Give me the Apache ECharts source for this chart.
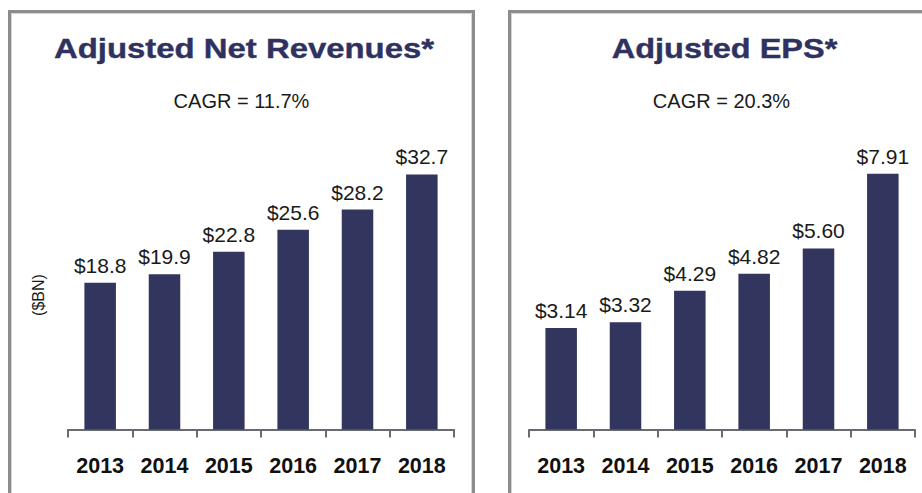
<!DOCTYPE html>
<html>
<head>
<meta charset="utf-8">
<script src="https://cdn.jsdelivr.net/npm/echarts@6/dist/echarts.min.js"></script>
<style>
html,body{margin:0;padding:0;background:#fff;}
#chart{width:922px;height:493px;}
</style>
</head>
<body>
<div id="chart"></div>
<script>
var categories = ['2013', '2014', '2015', '2016', '2017', '2018'];
var revenueValues = [18.8, 19.9, 22.8, 25.6, 28.2, 32.7];
var epsValues = [3.14, 3.32, 4.29, 4.82, 5.60, 7.91];
var revenueTitle = 'Adjusted Net Revenues*';
var epsTitle = 'Adjusted EPS*';
var revenueCagr = 'CAGR = 11.7%';
var epsCagr = 'CAGR = 20.3%';
var revenueUnit = '($BN)';

var navy = '#32355e';
var chart = echarts.init(document.getElementById('chart'), null, {renderer: 'svg'});

function xAxisCfg(gridIndex) {
  return {
    type: 'category', gridIndex: gridIndex, data: categories, boundaryGap: true,
    axisLine: {show: true, lineStyle: {color: '#6a6a72', width: 2}},
    axisTick: {show: true, length: 8, lineStyle: {color: '#6a6a72', width: 2}},
    axisLabel: {margin: 25, color: '#111', fontFamily: 'Liberation Sans', fontWeight: 'bold', fontSize: 21.5}
  };
}

chart.setOption({
  animation: false,
  backgroundColor: '#fff',
  grid: [
    {left: 68, right: 468, top: 117.5, bottom: 63.5},
    {left: 529, right: 7, top: 117.5, bottom: 63.5}
  ],
  xAxis: [xAxisCfg(0), xAxisCfg(1)],
  yAxis: [
    {type: 'value', gridIndex: 0, min: 0, max: 40, show: false},
    {type: 'value', gridIndex: 1, min: 0, max: 9.65, show: false}
  ],
  series: [
    {
      type: 'bar', xAxisIndex: 0, yAxisIndex: 0, data: revenueValues, barWidth: '49%',
      itemStyle: {color: navy},
      label: {show: true, position: 'top', distance: 7, color: '#1a1a1a', fontFamily: 'Liberation Sans', fontSize: 21,
        formatter: function (p) { return '$' + p.value.toFixed(1); }}
    },
    {
      type: 'bar', xAxisIndex: 1, yAxisIndex: 1, data: epsValues, barWidth: '49%',
      itemStyle: {color: navy},
      label: {show: true, position: 'top', distance: 7, color: '#1a1a1a', fontFamily: 'Liberation Sans', fontSize: 21,
        formatter: function (p) { return '$' + p.value.toFixed(2); }}
    }
  ],
  graphic: [
    {type: 'rect', shape: {x: 9.5, y: 11.5, width: 464, height: 600}, style: {fill: 'none', stroke: '#8c8c8c', lineWidth: 3}, z: 0},
    {type: 'rect', shape: {x: 11.5, y: 13.5, width: 460, height: 600}, style: {fill: 'none', stroke: '#d4d4d4', lineWidth: 1}, z: 0},
    {type: 'rect', shape: {x: 509.5, y: 11.5, width: 600, height: 600}, style: {fill: 'none', stroke: '#8c8c8c', lineWidth: 3}, z: 0},
    {type: 'rect', shape: {x: 511.5, y: 13.5, width: 600, height: 600}, style: {fill: 'none', stroke: '#d4d4d4', lineWidth: 1}, z: 0},
    {type: 'text', x: 244, y: 48, scaleX: 1.175,
      style: {text: revenueTitle, fill: '#2f3260', font: 'bold 28px "Liberation Sans"', textAlign: 'center', textVerticalAlign: 'middle', stroke: '#2f3260', lineWidth: 0.4}},
    {type: 'text', x: 724.5, y: 48, scaleX: 1.16,
      style: {text: epsTitle, fill: '#2f3260', font: 'bold 28px "Liberation Sans"', textAlign: 'center', textVerticalAlign: 'middle', stroke: '#2f3260', lineWidth: 0.4}},
    {type: 'text', x: 241.5, y: 101,
      style: {text: revenueCagr, fill: '#1a1a1a', font: '20px "Liberation Sans"', textAlign: 'center', textVerticalAlign: 'middle'}},
    {type: 'text', x: 721.5, y: 101,
      style: {text: epsCagr, fill: '#1a1a1a', font: '20px "Liberation Sans"', textAlign: 'center', textVerticalAlign: 'middle'}},
    {type: 'text', x: 38, y: 295, rotation: Math.PI / 2,
      style: {text: revenueUnit, fill: '#1a1a1a', font: '16px "Liberation Sans"', textAlign: 'center', textVerticalAlign: 'middle'}}
  ]
});
</script>
</body>
</html>
